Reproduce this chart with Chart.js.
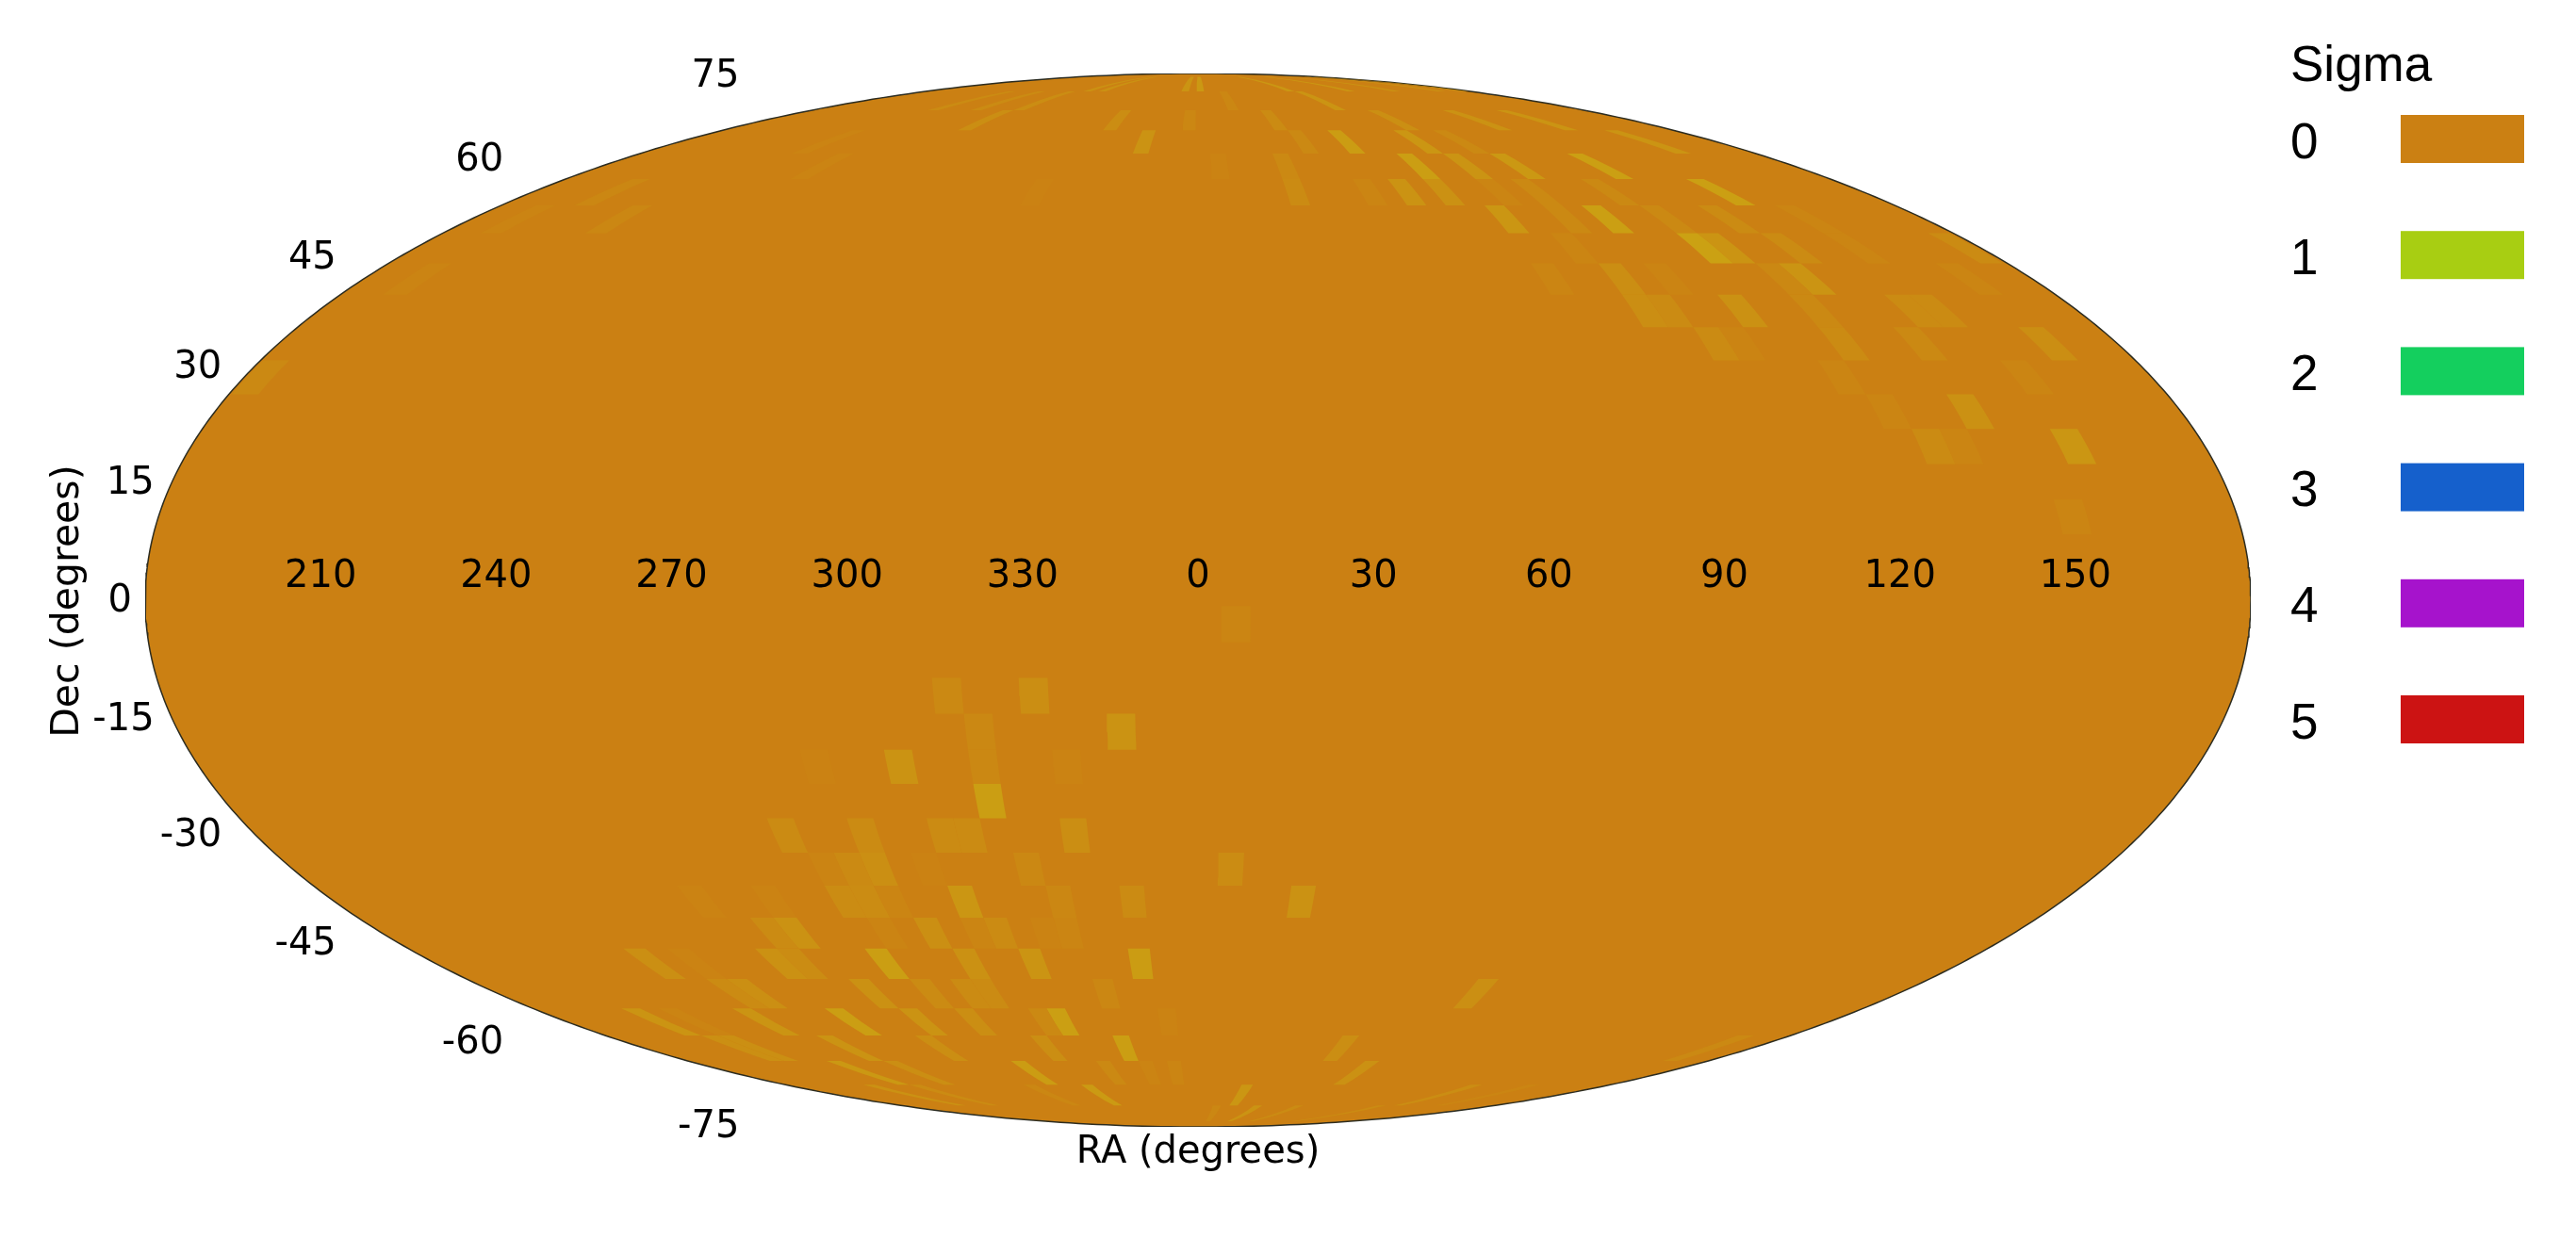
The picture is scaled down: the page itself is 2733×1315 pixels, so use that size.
<!DOCTYPE html>
<html>
<head>
<meta charset="utf-8">
<title>Sigma sky map</title>
<script src="https://cdn.jsdelivr.net/npm/chart.js@4/dist/chart.umd.min.js"></script>
<style>
  html, body { margin: 0; padding: 0; background: #fff; }
  canvas { display: block; }
</style>
</head>
<body>
<canvas id="chart" width="2733" height="1315"></canvas>
<script>
// tick labels
const raTicks = [210, 240, 270, 300, 330, 0, 30, 60, 90, 120, 150];
const decTicks = [75, 60, 45, 30, 15, 0, -15, -30, -45, -60, -75];
const sigmaLevels = [0, 1, 2, 3, 4, 5];
const sigmaColors = ['#cb8013', '#a8ce12', '#14cf5e', '#1560cc', '#a613cc', '#cc1313'];

// 5 degree cells as [RA of left edge, sigma], one list per declination band.
// Anything not listed is sigma 0
const bandS05 = [[4, .05]];
const bandS15 = [[314, .08], [329, .13]];
const bandS20 = [[319, .07], [344, .17]];
const bandS25 = [[289, .02], [304, .17], [319, .07], [334, .03]];
const bandS30 = [[319, .27]];
const bandS35 = [[279, .1], [294, .1], [309, .1], [314, .1], [334, .13]];
const bandS40 = [[284, .04], [289, .09], [294, .14], [304, .02], [324, .07], [4, .11]];
const bandS45 = [[254, .03], [269, .03], [284, .11], [289, .11], [294, .05], [309, .2], [329, .06], [344, .1], [19, .16]];
const bandS50 = [[264, .1], [269, .16], [289, .04], [299, .14], [309, .05], [314, .1], [324, .03], [329, .05]];
const bandS55 = [[229, .14], [239, .03], [259, .15], [264, .11], [284, .27], [304, .15], [319, .18], [344, .25]];
const bandS60 = [[239, .1], [244, .14], [274, .15], [289, .1], [299, .1], [304, .1], [334, .06], [69, .14]];
const bandS65 = [[204, .18], [214, .04], [234, .18], [259, .27], [279, .17], [294, .13], [314, .08], [319, .28], [349, .03]];
const bandS70 = [[209, .14], [214, .14], [244, .17], [274, .13], [309, .13], [334, .27], [44, .13], [164, .08]];
const bandS75 = [[229, .22], [249, .13], [294, .25], [324, .08], [339, .04], [349, .05], [59, .15]];
const bandS80 = [[214, .15], [234, .1], [284, .06], [309, .23], [19, .2], [119, .12], [144, .05]];
const bandS85 = [[9, .06], [34, .17], [59, .1], [109, .1]];

const bandN10 = [[149, .05]];
const bandN20 = [[129, .1], [134, .05], [154, .2]];
const bandN25 = [[124, .05], [139, .15]];
const bandN30 = [[119, .05], [154, .05], [180.5, .08]];
const bandN35 = [[99, .1], [104, .04], [124, .1], [139, .08], [164, .13]];
const bandN40 = [[89, .13], [94, .1], [109, .15], [124, .08], [144, .1], [149, .1]];
const bandN45 = [[74, .05], [89, .13], [99, .04], [124, .07], [129, .18], [164, .05], [189, .04]];
const bandN50 = [[84, .05], [114, .3], [119, .18], [134, .1], [149, .05], [174, .1]];
const bandN55 = [[74, .2], [89, .08], [99, .28], [114, .08], [129, .1], [149, .05], [189, .04], [214, .06]];
const bandN60 = [[24, .1], [44, .05], [54, .17], [64, .15], [79, .05], [89, .08], [109, .08], [139, .28], [199, .06], [314, .02]];
const bandN65 = [[4, .03], [24, .08], [64, .27], [79, .18], [94, .22], [119, .28], [244, .04]];
const bandN70 = [[34, .08], [49, .25], [74, .2], [89, .08], [154, .18], [229, .04], [339, .17]];
const bandN75 = [[29, .1], [79, .14], [114, .16], [139, .18], [269, .13], [324, .12], [354, .06]];
const bandN80 = [[14, .06], [64, .18], [234, .1], [254, .1], [274, .12]];
const bandN85 = [[59, .2], [99, .2], [129, .16], [159, .16], [174, .16], [284, .15], [294, .15], [349, .18], [359, .22]];

// declination limits of each band
const bands = [
  [-5.8, -0.8, bandS05], [-15.8, -10.8, bandS15], [-20.9, -15.8, bandS20], [-25.8, -20.9, bandS25],
  [-30.8, -25.8, bandS30], [-35.9, -30.8, bandS35], [-40.9, -35.9, bandS40], [-45.9, -40.9, bandS45],
  [-50.9, -45.9, bandS50], [-56, -50.9, bandS55], [-61.2, -56, bandS60], [-66.3, -61.2, bandS65],
  [-71.4, -66.3, bandS70], [-76.7, -71.4, bandS75], [-82, -76.7, bandS80], [-87, -82, bandS85],
  [9.15, 14, bandN10], [19, 24, bandN20], [24, 29, bandN25], [29, 34, bandN30], [34, 39, bandN35],
  [39, 44, bandN40], [44, 49, bandN45], [49, 54, bandN50], [54, 58.8, bandN55], [58.8, 63.6, bandN60],
  [63.6, 68.5, bandN65], [68.5, 73.4, bandN70], [73.4, 78, bandN75], [78, 83, bandN80], [83, 88, bandN85]
];

// Mollweide auxiliary angle
function mollTheta(dec) {
  const phi = dec * Math.PI / 180;
  if (Math.abs(dec) >= 90) return Math.sign(dec) * Math.PI / 2;
  let t = phi;
  for (let i = 0; i < 60; i++) {
    t -= (2 * t + Math.sin(2 * t) - Math.PI * Math.sin(phi)) / (2 + 2 * Math.cos(2 * t));
  }
  return t;
}

function project(ra, dec) {
  const lon = ra > 180 ? ra - 360 : ra;
  const t = mollTheta(dec);
  return { x: lon / 180 * Math.cos(t), y: Math.sin(t) };
}

// colormap goes through the hues between the legend's 0 and 1 colours
function sigmaColor(s) {
  return `hsl(${35.5 + 36.5 * s}, 83%, 43.5%)`;
}

function cellPolygon(ra, decLow, decHigh) {
  const pts = [];
  for (let i = 0; i <= 4; i++) pts.push(project(ra, decLow + (decHigh - decLow) * i / 4));
  for (let i = 4; i >= 0; i--) pts.push(project(ra + 5, decLow + (decHigh - decLow) * i / 4));
  pts.push(pts[0]);
  return pts;
}

const skyOutline = [];
for (let a = 0; a <= 720; a++) {
  skyOutline.push({ x: Math.cos(a * Math.PI / 360), y: Math.sin(a * Math.PI / 360) });
}

const datasets = [{
  label: 'sky',
  data: skyOutline,
  showLine: true,
  fill: 'shape',
  backgroundColor: sigmaColors[0],
  borderColor: '#2c2c20',
  borderWidth: 1.5,
  pointRadius: 0,
  tension: 0,
  order: 1
}];

bands.forEach(([decLow, decHigh, cells]) => {
  cells.forEach(([ra, sigma]) => {
    datasets.push({
      label: 'cell',
      data: cellPolygon(ra, decLow, decHigh),
      showLine: true,
      fill: 'shape',
      backgroundColor: sigmaColor(sigma),
      borderWidth: 0,
      pointRadius: 0,
      tension: 0,
      order: 0
    });
  });
});

// axis text and the Sigma key
const mapText = {
  id: 'mapText',
  afterDatasetsDraw(chart) {
    const { ctx, scales: { x, y } } = chart;
    ctx.save();
    ctx.fillStyle = '#000';
    ctx.textBaseline = 'middle';

    ctx.font = '40px "DejaVu Sans"';
    ctx.textAlign = 'center';
    raTicks.forEach(ra => {
      const p = project(ra, 0);
      ctx.fillText(String(ra), x.getPixelForValue(p.x), y.getPixelForValue(0) - 24);
    });

    ctx.textAlign = 'right';
    decTicks.forEach(dec => {
      const p = project(180, dec);
      ctx.fillText(String(dec), x.getPixelForValue(-Math.abs(p.x)) - 14, y.getPixelForValue(p.y * 1.1) + 2);
    });

    ctx.textAlign = 'center';
    ctx.fillText('RA (degrees)', x.getPixelForValue(0), 1224);
    ctx.save();
    ctx.translate(72, 638);
    ctx.rotate(-Math.PI / 2);
    ctx.font = '41px "DejaVu Sans"';
    ctx.fillText('Dec (degrees)', 0, 0);
    ctx.restore();

    ctx.font = '53px "Liberation Sans"';
    ctx.textAlign = 'left';
    ctx.fillText('Sigma', 2430, 71);
    sigmaLevels.forEach((level, i) => {
      const top = 122 + i * 123.2;
      ctx.fillStyle = '#000';
      ctx.fillText(String(level), 2430, top + 31);
      ctx.fillStyle = sigmaColors[i];
      ctx.fillRect(2547, top, 131, 51);
    });
    ctx.restore();
  }
};

new Chart(document.getElementById('chart'), {
  type: 'scatter',
  data: { datasets },
  plugins: [mapText],
  options: {
    responsive: false,
    animation: false,
    devicePixelRatio: 1,
    events: [],
    layout: { padding: { left: 154, right: 345, top: 78, bottom: 119 } },
    plugins: { legend: { display: false }, tooltip: { enabled: false } },
    scales: {
      x: { type: 'linear', min: -1, max: 1, display: false },
      y: { type: 'linear', min: -1, max: 1, display: false }
    }
  }
});
</script>
</body>
</html>
